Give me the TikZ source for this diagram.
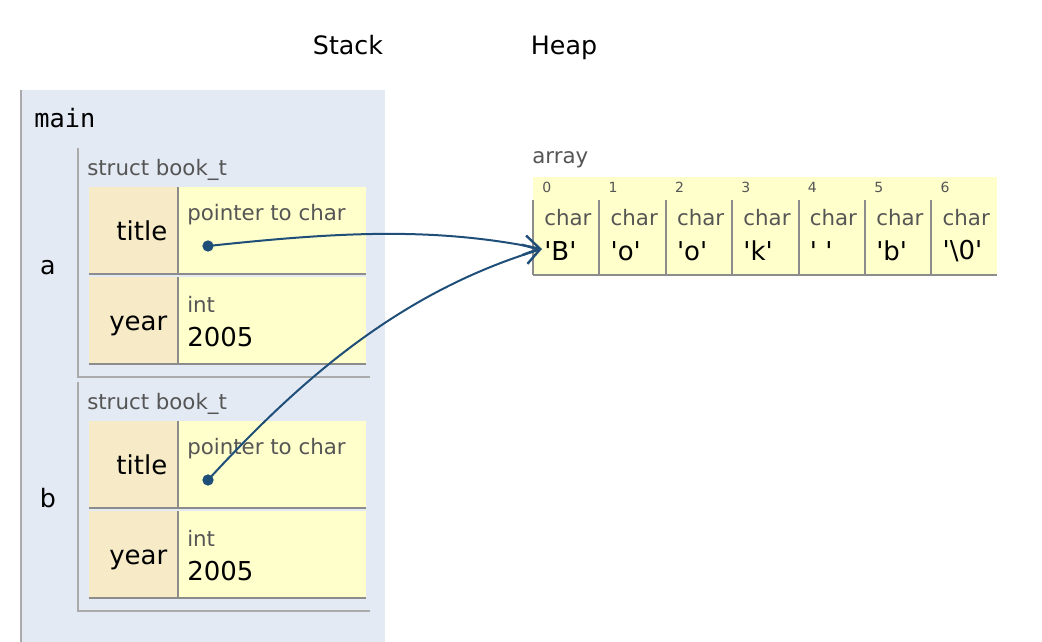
\documentclass[tikz,border=0pt]{standalone}
\usepackage{fontspec}
\setmainfont{DejaVu Sans}
\setmonofont{DejaVu Sans Mono}
\usetikzlibrary{positioning,arrows.meta}

\definecolor{frame bg}{RGB}{228,234,244}
\definecolor{key bg}{RGB}{246,235,198}
\definecolor{val bg}{RGB}{255,255,204}
\definecolor{struct gray}{RGB}{170,170,170}
\definecolor{cell gray}{RGB}{140,140,140}
\definecolor{type gray}{RGB}{85,85,85}
\definecolor{ptr blue}{RGB}{31,78,121}

\newcommand\chq{\textquotesingle}

\begin{document}
\begin{tikzpicture}[x=0.75pt,y=-0.75pt,
  big/.style={font=\fontsize{19}{22}\selectfont,text height=14pt,text depth=0pt},
  type label/.style={anchor=west,inner sep=0pt,text=type gray,font=\fontsize{16}{18}\selectfont},
  index label/.style={anchor=west,inner sep=0pt,text=type gray,font=\fontsize{10.5}{12}\selectfont},
  value text/.style={anchor=west,inner sep=0pt,font=\fontsize{19.5}{22}\selectfont},
  key cell/.style={anchor=north west,fill=key bg,inner xsep=0pt,minimum width=66pt,
    minimum height=66pt,text width=51pt,align=right,text height=14pt,text depth=0pt,
    font=\fontsize{19.5}{22}\selectfont},
  value cell/.style={anchor=north west,fill=val bg,inner sep=0pt,minimum width=140.25pt,minimum height=66pt},
  struct rule/.style={draw=struct gray,line width=1.5pt},
  cell rule/.style={draw=cell gray,line width=1.5pt},
  dot/.style={circle,fill=ptr blue,inner sep=0pt,minimum size=8.5pt},
  ptr/.style={draw=ptr blue,line width=1.5pt,-{Straight Barb[length=12pt,width=15pt,line width=1.8pt]}}]

  \useasboundingbox (0,0) rectangle (1042,642);

  % headings
  \node[big] (stack) at (348,45) {Stack};
  \node[big] (heap) at (564,45) {Heap};

  % frame
  \fill[frame bg] (20,90) rectangle (385,642);
  \draw[struct rule] (21,90) -- (21,642);
  \node[anchor=west,inner sep=0pt,font=\ttfamily\fontsize{19}{22}\selectfont] (main) at (34,118) {main};

  % struct a
  \node[big] (a label) at (48,265) {a};
  \draw[struct rule] (78,148) -- (78,377) -- (370,377);
  \node[type label] (a type) at (87,170) {struct book\_t};
  \node[key cell] (a title) at (89,187) {title};
  \node[value cell] (a title val) at (179,187) {};
  \node[key cell] (a year) at (89,277) {year};
  \node[value cell] (a year val) at (179,277) {};
  \draw[cell rule] (89,274) -- (366,274) (178,187) -- (178,275);
  \draw[cell rule] (89,364) -- (366,364) (178,277) -- (178,365);
  \node[type label] (a title type) at (187,215) {pointer to char};
  \node[dot] (a ptr) at (208,246) {};
  \node[type label] (a year type) at (187,304) {int};
  \node[value text] (a year num) at (187,337) {2005};

  % struct b
  \node[big] (b label) at (48,498) {b};
  \draw[struct rule] (78,382) -- (78,611) -- (370,611);
  \node[type label] (b type) at (87,404) {struct book\_t};
  \node[key cell] (b title) at (89,421) {title};
  \node[value cell] (b title val) at (179,421) {};
  \node[key cell] (b year) at (89,511) {year};
  \node[value cell] (b year val) at (179,511) {};
  \draw[cell rule] (89,508) -- (366,508) (178,421) -- (178,509);
  \draw[cell rule] (89,598) -- (366,598) (178,511) -- (178,599);
  \node[type label] (b title type) at (187,449) {pointer to char};
  \node[dot] (b ptr) at (208,480) {};
  \node[type label] (b year type) at (187,538) {int};
  \node[value text] (b year num) at (187,571) {2005};

  % heap array
  \node[type label] (arr label) at (532,160) {array};
  \fill[val bg] (533,177) rectangle (997,275);
  \draw[cell rule] (533,275) -- (997,275);
  \foreach \v [count=\i from 0] in {{\chq B\chq},{\chq o\chq},{\chq o\chq},{\chq k\chq},{\chq\ \chq},{\chq b\chq},{\chq\textbackslash 0\chq}} {
    \draw[cell rule] (533+66.4*\i,200) -- (533+66.4*\i,275);
    \node[index label] (idx\i) at (542+66.4*\i,187) {\i};
    \node[type label] (char\i) at (544+66.4*\i,218) {char};
    \node[value text] (cell\i) at (544+66.4*\i,251) {\v};
  }
  \coordinate (arr in) at (542,249);

  % pointers
  \draw[ptr] (a ptr.center) .. controls (330,233) and (430,226) .. (arr in);
  \draw[ptr] (b ptr.center) .. controls (300,380) and (400,292) .. (arr in);

\end{tikzpicture}
\end{document}
